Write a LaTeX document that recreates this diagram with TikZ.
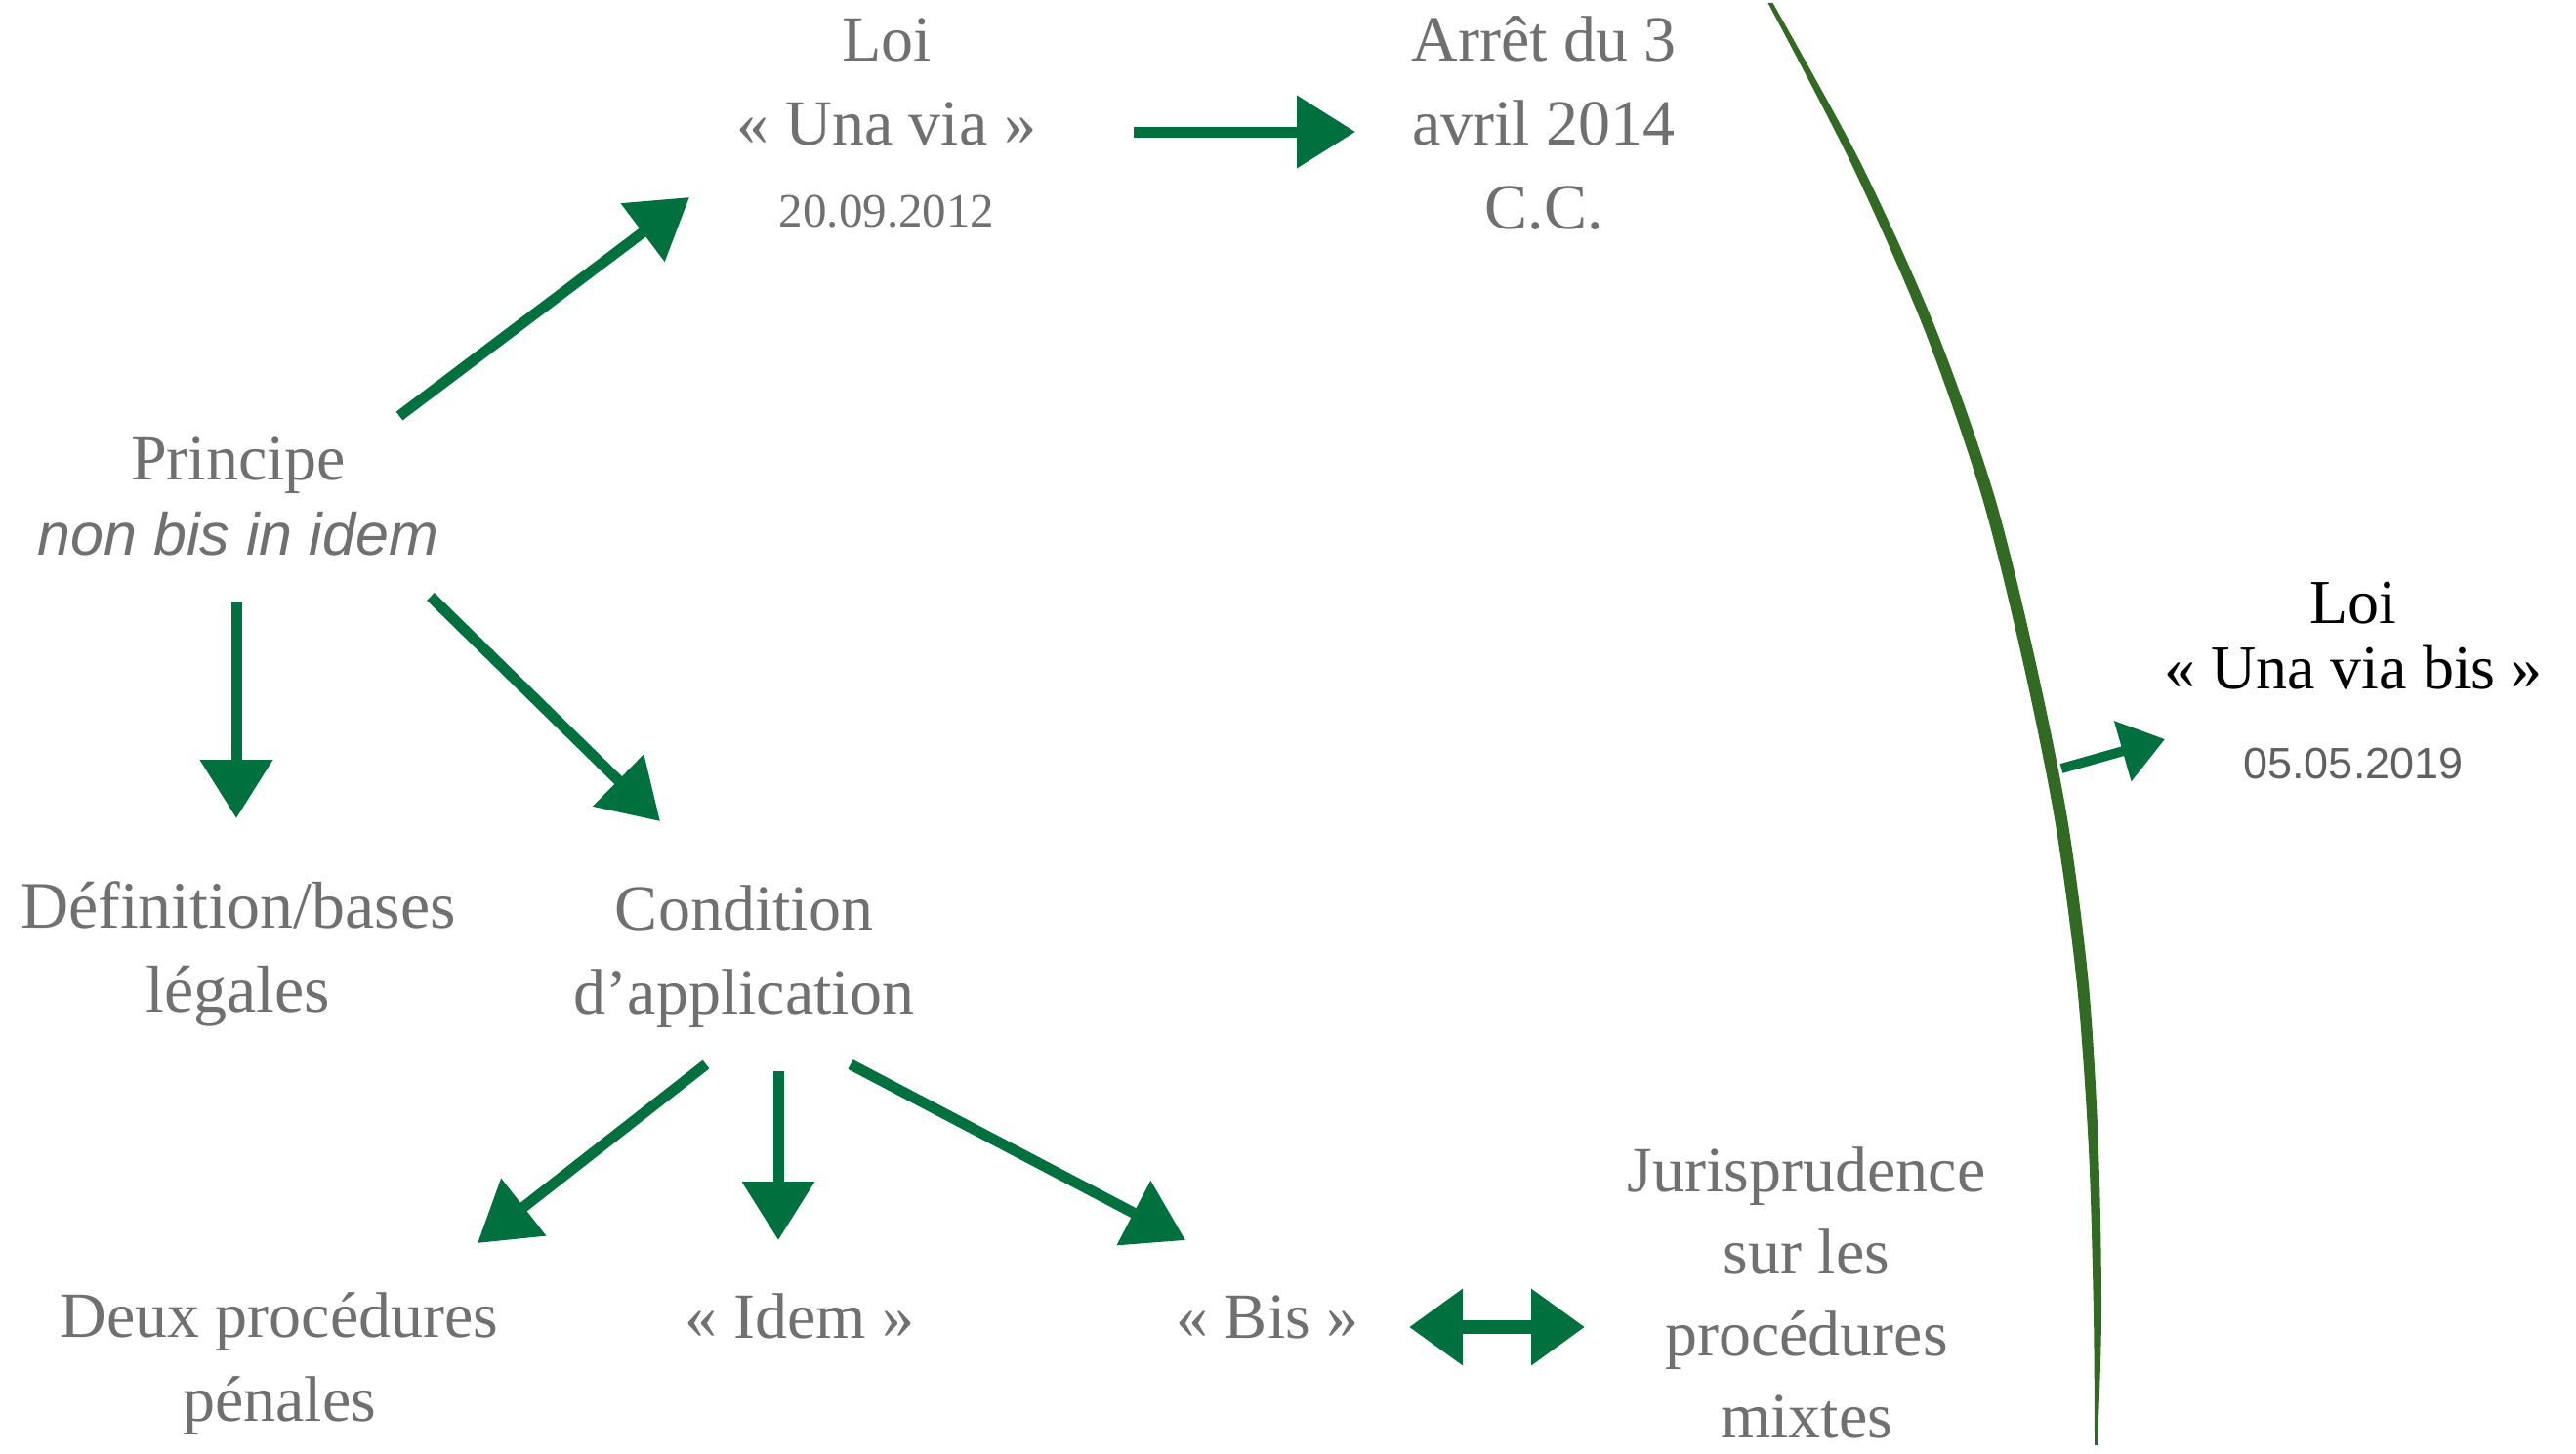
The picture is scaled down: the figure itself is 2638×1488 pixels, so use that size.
\documentclass[tikz,border=0pt]{standalone}
\usepackage{fontspec}
\setmainfont{Liberation Serif}
\newfontfamily\sansf{Liberation Sans}
\usetikzlibrary{arrows.meta}
\definecolor{txtgray}{RGB}{112,112,112}
\definecolor{dategray}{RGB}{96,96,96}
\definecolor{arrgreen}{RGB}{0,112,62}
\definecolor{arcgreen}{RGB}{50,105,35}
\begin{document}
\begin{tikzpicture}[x=1pt,y=-1pt,
  lbl/.style={font=\fontsize{66}{86}\selectfont, text=txtgray, align=center, inner sep=0pt, anchor=base},
  datelbl/.style={font=\fontsize{49}{60}\selectfont, text=txtgray, inner sep=0pt, anchor=base},
  conn/.style={draw=arrgreen, line width=11pt, -{Triangle[length=60pt,width=72pt]}},
  dconn/.style={draw=arrgreen, line width=14pt, {Triangle[length=55pt,width=75pt]}-{Triangle[length=55pt,width=75pt]}},
  sconn/.style={draw=arrgreen, line width=10pt, -{Triangle[length=45pt,width=62pt]}},
]
\useasboundingbox (0,0) rectangle (2638,1488);

% text nodes (anchor base = baseline of the last line)
\node[lbl] (loi1) at (908,148) {Loi\\« Una via »};
\node[datelbl] (date1) at (908,232) {20.09.2012};
\node[lbl] (arret) at (1581,234) {Arrêt du 3\\avril 2014\\C.C.};
\node[lbl] (princ) at (244,568) {Principe\\[-9pt]{\sansf\itshape\fontsize{61}{77}\selectfont non bis in idem}};
\node[lbl, font=\fontsize{68}{86}\selectfont] (defn) at (244,1036) {Définition/bases\\légales};
\node[lbl] (cond) at (762,1038) {Condition\\d’application};
\node[lbl] (deux) at (286,1455) {Deux procédures\\pénales};
\node[lbl] (idem) at (819,1370) {« Idem »};
\node[lbl] (bis) at (1298,1370) {« Bis »};
\node[lbl, font=\fontsize{66}{84}\selectfont] (juris) at (1850,1472) {Jurisprudence\\sur les\\procédures\\mixtes};
\node[font=\fontsize{64}{67}\selectfont, text=black, align=center, inner sep=0pt, anchor=base] (loi2) at (2410,705) {Loi\\« Una via bis »};
\node[font=\sansf\fontsize{45}{50}\selectfont, text=dategray, inner sep=0pt, anchor=base] (date2) at (2410,797) {05.05.2019};

% big brush arc
\fill[arcgreen] plot[smooth] coordinates {(1810.5,3) (1896,168) (1970,336) (2028.5,505) (2070.5,673) (2104.5,841) (2127,1009) (2139,1177) (2144,1346) (2145,1480)}
  -- plot[smooth] coordinates {(2148,1480) (2152,1346) (2149,1177) (2139,1009) (2117.5,841) (2083.5,673) (2041.5,505) (1982,336) (1906,168) (1815.5,3)} -- cycle;

% connector end points
\coordinate (pA) at (409,426);   \coordinate (lA) at (706,202);
\coordinate (lB) at (1161,135);  \coordinate (aB) at (1388,135);
\coordinate (pC) at (242,616);   \coordinate (dC) at (242,838);
\coordinate (pD) at (441,611);   \coordinate (cD) at (676,841);
\coordinate (cE) at (723,1090);  \coordinate (dE) at (489,1273);
\coordinate (cF) at (797,1097);  \coordinate (iF) at (797,1270);
\coordinate (cG) at (871,1090);  \coordinate (bG) at (1214,1270);
\coordinate (bH) at (1443,1359); \coordinate (jH) at (1623,1359);
\coordinate (arcpt) at (2111,787); \coordinate (lI) at (2217,757);

\draw[conn] (pA) -- (lA);
\draw[conn] (lB) -- (aB);
\draw[conn] (pC) -- (dC);
\draw[conn] (pD) -- (cD);
\draw[conn] (cE) -- (dE);
\draw[conn] (cF) -- (iF);
\draw[conn] (cG) -- (bG);
\draw[dconn] (bH) -- (jH);
\draw[sconn] (arcpt) -- (lI);
\end{tikzpicture}
\end{document}
